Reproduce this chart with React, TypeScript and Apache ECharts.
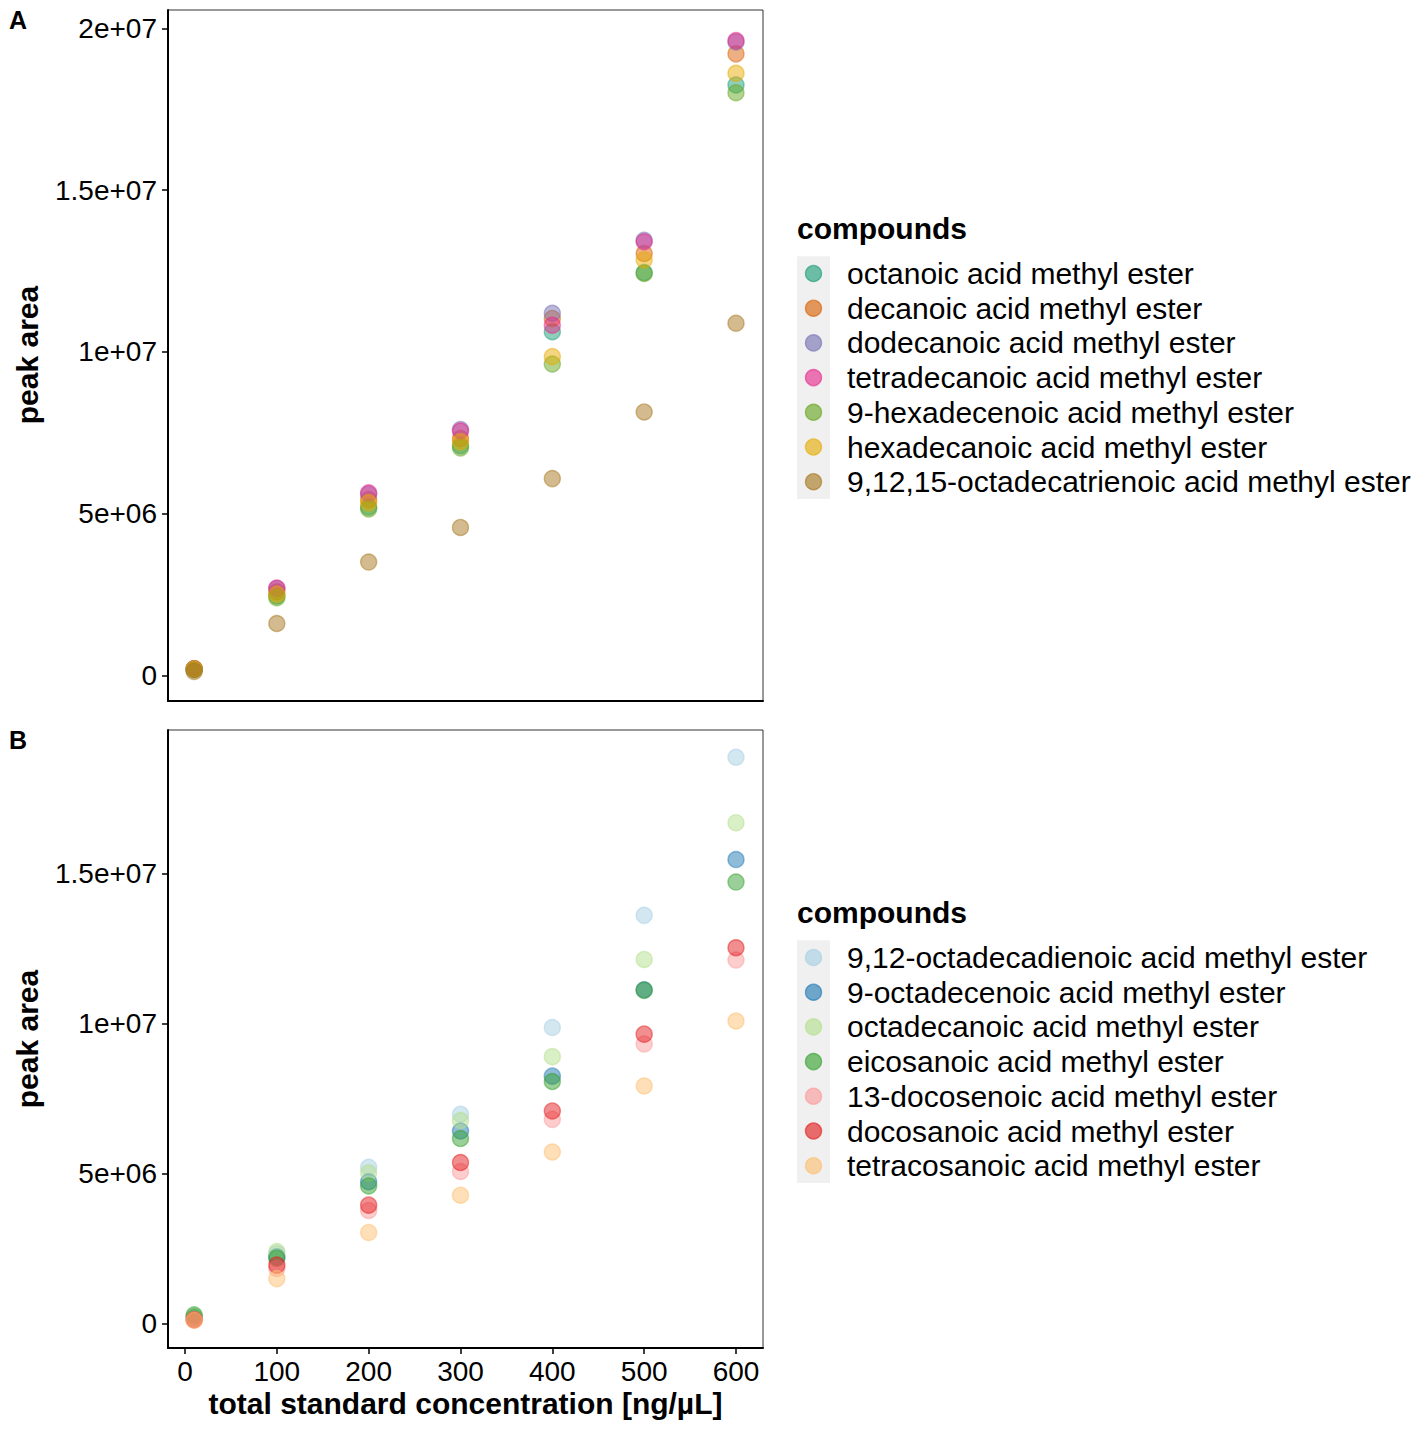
import React, { useEffect, useRef } from "react";
import * as echarts from "echarts";

// ---------- data ----------
const concentrations = [10, 100, 200, 300, 400, 500, 600];

const namesA = [
  "octanoic acid methyl ester",
  "decanoic acid methyl ester",
  "dodecanoic acid methyl ester",
  "tetradecanoic acid methyl ester",
  "9-hexadecenoic acid methyl ester",
  "hexadecanoic acid methyl ester",
  "9,12,15-octadecatrienoic acid methyl ester",
];
const colorsA = ["#1B9E77", "#D95F02", "#7570B3", "#E7298A", "#66A61E", "#E6AB02", "#A6761D"];
const octanoic = [0.2e6, 2.45e6, 5.2e6, 7.1e6, 10.62e6, 12.45e6, 18.25e6];
const decanoic = [0.2e6, 2.58e6, 5.43e6, 7.32e6, 11.03e6, 13.04e6, 19.21e6];
const dodecanoic = [0.19e6, 2.68e6, 5.6e6, 7.6e6, 11.19e6, 13.45e6, 19.58e6];
const tetradecanoic = [0.2e6, 2.7e6, 5.64e6, 7.55e6, 10.82e6, 13.4e6, 19.62e6];
const hexadecenoic9 = [0.18e6, 2.4e6, 5.14e6, 7.03e6, 9.62e6, 12.42e6, 18.01e6];
const hexadecanoic = [0.2e6, 2.5e6, 5.33e6, 7.22e6, 9.85e6, 12.84e6, 18.61e6];
const octadecatrienoic = [0.12e6, 1.6e6, 3.5e6, 4.57e6, 6.08e6, 8.14e6, 10.88e6];
const valuesA = [octanoic, decanoic, dodecanoic, tetradecanoic, hexadecenoic9, hexadecanoic, octadecatrienoic];

const namesB = [
  "9,12-octadecadienoic acid methyl ester",
  "9-octadecenoic acid methyl ester",
  "octadecanoic acid methyl ester",
  "eicosanoic acid methyl ester",
  "13-docosenoic acid methyl ester",
  "docosanoic acid methyl ester",
  "tetracosanoic acid methyl ester",
];
const colorsB = ["#A6CEE3", "#1F78B4", "#B2DF8A", "#33A02C", "#FB9A99", "#E31A1C", "#FDBF6F"];
const octadecadienoic912 = [0.2e6, 2.33e6, 5.2e6, 6.97e6, 9.86e6, 13.6e6, 18.87e6];
const octadecenoic9 = [0.2e6, 2.22e6, 4.72e6, 6.41e6, 8.24e6, 11.12e6, 15.46e6];
const octadecanoic = [0.22e6, 2.39e6, 5.02e6, 6.76e6, 8.89e6, 12.13e6, 16.69e6];
const eicosanoic = [0.28e6, 2.17e6, 4.58e6, 6.16e6, 8.06e6, 11.1e6, 14.71e6];
const docosenoic13 = [0.12e6, 1.83e6, 3.76e6, 5.06e6, 6.8e6, 9.31e6, 12.11e6];
const docosanoic = [0.12e6, 1.94e6, 3.94e6, 5.36e6, 7.08e6, 9.64e6, 12.52e6];
const tetracosanoic = [0.1e6, 1.49e6, 3.03e6, 4.27e6, 5.71e6, 7.91e6, 10.08e6];
const valuesB = [octadecadienoic912, octadecenoic9, octadecanoic, eicosanoic, docosenoic13, docosanoic, tetracosanoic];

const xTicks = [0, 100, 200, 300, 400, 500, 600];
const yTicksA = [0, 5e6, 1e7, 1.5e7, 2e7];
const yTickLabelsA = ["0", "5e+06", "1e+07", "1.5e+07", "2e+07"];
const yTicksB = [0, 5e6, 1e7, 1.5e7];
const yTickLabelsB = ["0", "5e+06", "1e+07", "1.5e+07"];

const legendTitle = "compounds";
const yTitle = "peak area";
const xTitle = "total standard concentration [ng/\u00b5L]";

// ---------- helpers ----------
const FONT = "Liberation Sans, Arial, Helvetica, sans-serif";
const ALPHA = 0.62;

function rgba(hex: string, a: number) {
  const n = parseInt(hex.slice(1), 16);
  return `rgba(${(n >> 16) & 255},${(n >> 8) & 255},${n & 255},${a})`;
}

function lookupLabel(ticks: number[], labels: string[]) {
  return (v: number) => {
    for (let i = 0; i < ticks.length; i++) {
      if (Math.abs(ticks[i] - v) < 1) return labels[i];
    }
    return "";
  };
}

export default function App() {
  const ref = useRef<HTMLDivElement>(null);

  useEffect(() => {
    if (!ref.current) return;
    const chart = echarts.init(ref.current, undefined, { renderer: "svg" });

    const gridA = { left: 168, top: 10, width: 595, height: 691 };
    const gridB = { left: 168, top: 730, width: 595, height: 618 };

    const axisLineStyle = { color: "#000", width: 2 };
    const tickLabelStyle = { color: "#000", fontSize: 28, fontFamily: FONT };
    const tickStyle = { color: "#000", width: 1.5 };

    const makeSeries = (names: string[], colors: string[], vals: number[][], idx: number) =>
      names.map((name, i) => ({
        type: "scatter",
        name,
        xAxisIndex: idx,
        yAxisIndex: idx,
        symbol: "circle",
        symbolSize: 16,
        data: concentrations.map((c, j) => [c, vals[i][j]]),
        itemStyle: {
          color: rgba(colors[i], ALPHA),
          borderColor: rgba(colors[i], ALPHA),
          borderWidth: 1.4,
        },
        emphasis: { disabled: true },
        silent: true,
      }));

    const legendGraphics = (names: string[], colors: string[], titleY: number, firstY: number, step: number) => {
      const els: any[] = [];
      els.push({
        type: "text",
        x: 797,
        y: titleY,
        style: { text: legendTitle, fontSize: 30, fontWeight: "bold", fontFamily: FONT, fill: "#000", verticalAlign: "middle", align: "left" },
      });
      els.push({
        type: "rect",
        shape: { x: 797, y: firstY - step / 2, width: 33, height: step * names.length },
        style: { fill: "#F0F0F0" },
      });
      names.forEach((n, i) => {
        const cy = firstY + i * step;
        els.push({
          type: "circle",
          shape: { cx: 813.5, cy, r: 8 },
          style: { fill: rgba(colors[i], ALPHA), stroke: rgba(colors[i], ALPHA), lineWidth: 1.4 },
        });
        els.push({
          type: "text",
          x: 847,
          y: cy,
          style: { text: n, fontSize: 30, fontFamily: FONT, fill: "#000", verticalAlign: "middle", align: "left" },
        });
      });
      return els;
    };

    const option: any = {
      animation: false,
      backgroundColor: "#fff",
      grid: [
        { ...gridA, show: true, borderColor: "#333", borderWidth: 1, backgroundColor: "transparent" },
        { ...gridB, show: true, borderColor: "#333", borderWidth: 1, backgroundColor: "transparent" },
      ],
      xAxis: [
        {
          type: "value",
          gridIndex: 0,
          min: -18.5,
          max: 629.4,
          axisLine: { show: true, onZero: false, lineStyle: axisLineStyle },
          axisTick: { show: false },
          axisLabel: { show: false },
          splitLine: { show: false },
        },
        {
          type: "value",
          gridIndex: 1,
          min: -18.5,
          max: 629.4,
          axisLine: { show: true, onZero: false, lineStyle: axisLineStyle },
          axisTick: { show: true, length: 6, lineStyle: tickStyle, customValues: xTicks },
          axisLabel: { show: true, margin: 9, ...tickLabelStyle, customValues: xTicks, formatter: (v: number) => String(v) },
          splitLine: { show: false },
        },
      ],
      yAxis: [
        {
          type: "value",
          gridIndex: 0,
          min: -0.795e6,
          max: 20.566e6,
          axisLine: { show: true, onZero: false, lineStyle: axisLineStyle },
          axisTick: { show: true, length: 6, lineStyle: tickStyle, customValues: yTicksA },
          axisLabel: { show: true, margin: 11, ...tickLabelStyle, customValues: yTicksA, formatter: lookupLabel(yTicksA, yTickLabelsA) },
          splitLine: { show: false },
        },
        {
          type: "value",
          gridIndex: 1,
          min: -0.823e6,
          max: 19.78e6,
          axisLine: { show: true, onZero: false, lineStyle: axisLineStyle },
          axisTick: { show: true, length: 6, lineStyle: tickStyle, customValues: yTicksB },
          axisLabel: { show: true, margin: 11, ...tickLabelStyle, customValues: yTicksB, formatter: lookupLabel(yTicksB, yTickLabelsB) },
          splitLine: { show: false },
        },
      ],
      series: [...makeSeries(namesA, colorsA, valuesA, 0), ...makeSeries(namesB, colorsB, valuesB, 1)],
      graphic: [
        { type: "text", x: 9, y: 20, style: { text: "A", fontSize: 25, fontWeight: "bold", fontFamily: FONT, fill: "#000", verticalAlign: "middle", align: "left" } },
        { type: "text", x: 9, y: 740, style: { text: "B", fontSize: 25, fontWeight: "bold", fontFamily: FONT, fill: "#000", verticalAlign: "middle", align: "left" } },
        { type: "text", x: 27, y: 355, rotation: Math.PI / 2, style: { text: yTitle, fontSize: 30, fontWeight: "bold", fontFamily: FONT, fill: "#000", verticalAlign: "middle", align: "center" } },
        { type: "text", x: 27, y: 1039, rotation: Math.PI / 2, style: { text: yTitle, fontSize: 30, fontWeight: "bold", fontFamily: FONT, fill: "#000", verticalAlign: "middle", align: "center" } },
        { type: "text", x: 465.5, y: 1403, style: { text: xTitle, fontSize: 30, fontWeight: "bold", fontFamily: FONT, fill: "#000", verticalAlign: "middle", align: "center" } },
        ...legendGraphics(namesA, colorsA, 228, 273.5, 34.7),
        ...legendGraphics(namesB, colorsB, 912, 957.5, 34.7),
      ],
    };

    chart.setOption(option);
    return () => chart.dispose();
  }, []);

  return (
    <div
      ref={ref}
      style={{ position: "absolute", left: 0, top: 0, width: 1418, height: 1429, background: "#fff" }}
    />
  );
}
